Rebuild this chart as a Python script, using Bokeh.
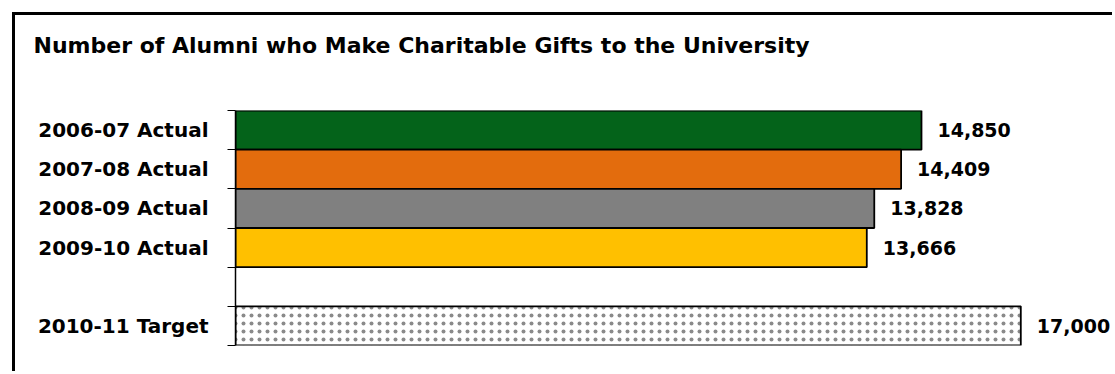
from bokeh.plotting import figure
from bokeh.models import Range1d, FixedTicker, ColumnDataSource
from bokeh.core.properties import value
from bokeh.embed import file_html
from bokeh.resources import INLINE

# ---- data ----
title_text = "Number of Alumni who Make Charitable Gifts to the University"
slots = ["2006-07 Actual", "2007-08 Actual", "2008-09 Actual", "2009-10 Actual", "", "2010-11 Target"]
bar_categories = ["2006-07 Actual", "2007-08 Actual", "2008-09 Actual", "2009-10 Actual", "2010-11 Target"]
bar_values = [14850, 14409, 13828, 13666, 17000]
bar_colors = ["#04631A", "#E36C0D", "#808080", "#FFC000", "#FFFFFF"]
bar_hatch = [" ", " ", " ", " ", "."]

FONT = "DejaVu Sans"
SHIFT = 15  # canvas starts inside the outer border

ys = [2 * slots.index(c) + 1 for c in bar_categories]
src = ColumnDataSource(dict(
    y=ys, v=bar_values, color=bar_colors, hatch=bar_hatch,
    label=[f"{v:,}" for v in bar_values],
))

p = figure(width=1115 - SHIFT, height=374 - SHIFT, output_backend="svg", toolbar_location=None,
           x_range=Range1d(0, 19050), y_range=Range1d(2 * len(slots), 0),
           min_border_left=235 - SHIFT, min_border_right=0,
           min_border_top=110 - SHIFT, min_border_bottom=29)
p.margin = (12, 0, 0, 12)
p.styles = {"border-left": "3px solid black", "border-top": "3px solid black"}

p.hbar(y="y", left=0, right="v", height=2, source=src, fill_color="color",
       line_color="black", line_width=1.8, hatch_pattern="hatch", hatch_color="#8a8a8a",
       hatch_scale=8, hatch_weight=1)

p.text(x="v", y="y", text="label", source=src, x_offset=16,
       text_font=value(FONT), text_font_style="bold", text_font_size="19px",
       text_baseline="middle", text_align="left", text_color="black")

# axes
p.xaxis.visible = False
p.xgrid.visible = False
p.ygrid.visible = False
p.outline_line_color = None

yax = p.yaxis[0]
yax.ticker = FixedTicker(ticks=[2 * i + 1 for i in range(len(slots))],
                         minor_ticks=[2 * i for i in range(len(slots) + 1)])
yax.major_label_overrides = {2 * i + 1: s for i, s in enumerate(slots)}
yax.major_tick_in = 0
yax.major_tick_out = 0
yax.minor_tick_in = 0
yax.minor_tick_out = 8
yax.minor_tick_line_color = "black"
yax.axis_line_color = "black"
yax.axis_line_width = 1.5
yax.major_label_standoff = 19
yax.major_label_text_font = FONT
yax.major_label_text_font_style = "bold"
yax.major_label_text_font_size = "20px"
yax.major_label_text_color = "black"

# title
p.title.text = title_text
p.title.text_font = FONT
p.title.text_font_style = "bold"
p.title.text_font_size = "22px"
p.title.text_color = "black"
p.title.align = "left"
p.title.offset = -202
p.title.standoff = 0
p.title.padding = (0, 0, 0, 53)

open("out.html", "w").write(file_html(p, INLINE))
